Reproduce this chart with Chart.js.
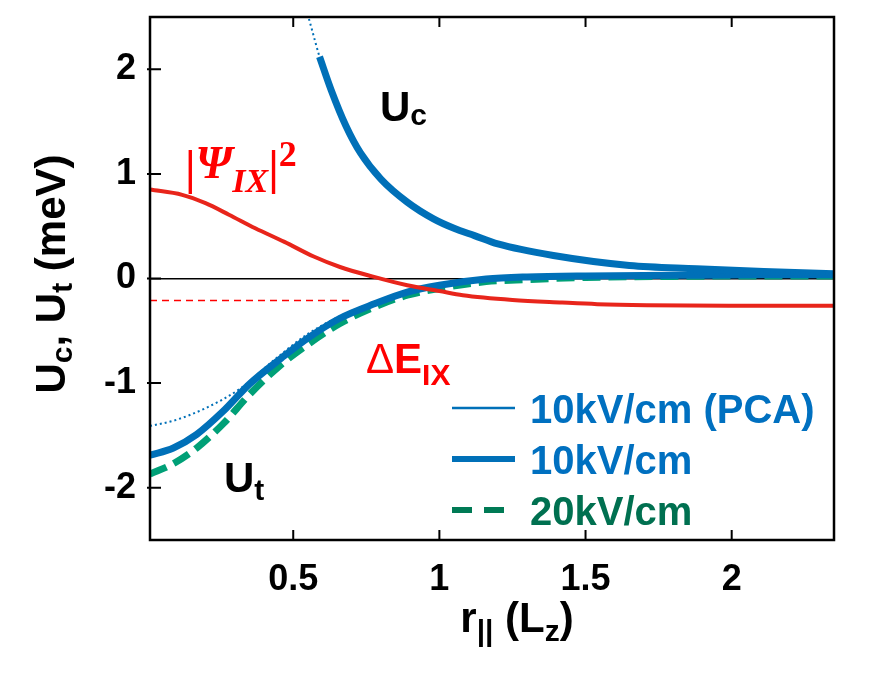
<!DOCTYPE html>
<html lang="en">

<head>
  <meta charset="UTF-8">
  <title>Uc, Ut vs r</title>
  <style>
    body { margin: 0; background: #fff; }
  </style>
</head>

<body>

  <canvas id="potChart" width="882" height="680"></canvas>

  <script src="https://cdn.jsdelivr.net/npm/chart.js@4.4.0/dist/chart.umd.min.js"></script>

  <script>
    // tick values
    const xTicks = [0.5, 1, 1.5, 2];
    const yTicks = [-2, -1, 0, 1, 2];

    // |Psi_IX|^2 (red)
    const psiX = [0.01, 0.12, 0.2, 0.28, 0.37, 0.47, 0.57, 0.66, 0.77, 0.89, 1.0, 1.08, 1.25, 1.42, 1.54, 1.71, 1.99, 2.35];
    const psiY = [0.85, 0.80, 0.72, 0.61, 0.48, 0.35, 0.21, 0.11, 0.02, -0.065, -0.12, -0.16, -0.205, -0.23, -0.245, -0.255, -0.26, -0.26];

    // Delta E_IX level (red dashed)
    const deX = [0.01, 0.70];
    const deY = [-0.21, -0.21];

    // Uc, 10kV/cm
    const ucX = [0.59, 0.63, 0.68, 0.73, 0.80, 0.89, 0.98, 1.05, 1.12, 1.2, 1.39, 1.65, 1.88, 2.11, 2.35];
    const ucY = [2.12, 1.80, 1.46, 1.20, 0.95, 0.73, 0.57, 0.48, 0.41, 0.33, 0.22, 0.125, 0.094, 0.068, 0.045];

    // Uc, 10kV/cm (PCA)
    const ucPcaX = [0.54, 0.56, 0.59, 0.63, 0.68, 0.73, 0.80, 0.89, 0.98, 1.05, 1.12, 1.2, 1.39, 1.65, 1.88, 2.11, 2.35];
    const ucPcaY = [2.62, 2.42, 2.12, 1.80, 1.46, 1.20, 0.95, 0.73, 0.57, 0.48, 0.41, 0.33, 0.22, 0.125, 0.094, 0.068, 0.045];

    // Ut, 10kV/cm
    const utX = [0.01, 0.09, 0.17, 0.26, 0.35, 0.46, 0.55, 0.66, 0.78, 0.89, 1.0, 1.16, 1.3, 1.5, 1.8, 2.1, 2.35];
    const utY = [-1.69, -1.62, -1.49, -1.27, -1.01, -0.76, -0.57, -0.38, -0.24, -0.13, -0.065, -0.005, 0.015, 0.025, 0.03, 0.035, 0.035];

    // Ut, 20kV/cm
    const ut20Y = [-1.87, -1.77, -1.62, -1.39, -1.11, -0.82, -0.63, -0.43, -0.27, -0.16, -0.095, -0.03, -0.01, 0.01, 0.02, 0.025, 0.025];

    // Ut, 10kV/cm (PCA)
    const utPcaX = [0.01, 0.09, 0.2, 0.32, 0.43, 0.55, 0.66, 0.78, 0.89, 1.0, 1.16, 1.3, 1.5, 1.8, 2.1, 2.35];
    const utPcaY = [-1.41, -1.36, -1.24, -1.05, -0.79, -0.53, -0.36, -0.225, -0.12, -0.06, 0.0, 0.015, 0.025, 0.03, 0.035, 0.035];

    const BLUE = "#0070B8";
    const GREEN = "#00A077";
    const RED = "#E8251B";
    const SANS = "'Liberation Sans', Arial, sans-serif";

    const pts = (xs, ys) => xs.map((x, i) => ({ x: x, y: ys[i] }));

    // draw a run of text pieces (for sub/superscripts)
    function richText(ctx, parts, x, y, align) {
      let w = 0;
      parts.forEach(p => { ctx.font = p.font; w += ctx.measureText(p.t).width; });
      let cx = align === "center" ? x - w / 2 : x;
      parts.forEach(p => {
        ctx.font = p.font;
        ctx.fillStyle = p.color || "#000";
        ctx.fillText(p.t, cx, y + (p.dy || 0));
        cx += ctx.measureText(p.t).width;
      });
    }

    const framePlugin = {
      id: "frame",
      afterDraw(chart) {
        const { ctx, chartArea: a, scales } = chart;
        ctx.save();
        ctx.strokeStyle = "#000";
        ctx.lineWidth = 2.5;
        ctx.strokeRect(a.left, a.top, a.right - a.left, a.bottom - a.top);

        // inward ticks
        ctx.lineWidth = 2;
        ctx.beginPath();
        xTicks.forEach(v => {
          const px = scales.x.getPixelForValue(v);
          ctx.moveTo(px, a.bottom); ctx.lineTo(px, a.bottom - 10);
          ctx.moveTo(px, a.top); ctx.lineTo(px, a.top + 10);
        });
        yTicks.forEach(v => {
          const py = scales.y.getPixelForValue(v);
          ctx.moveTo(a.left - 3, py); ctx.lineTo(a.left + 11, py);
        });
        ctx.stroke();

        ctx.textBaseline = "alphabetic";
        ctx.textAlign = "left";
        const big = "bold 42px " + SANS;
        const sub = "bold 30px " + SANS;

        // axis titles
        richText(ctx, [
          { t: "r", font: big },
          { t: "||", font: sub, dy: 9 },
          { t: " (L", font: big },
          { t: "z", font: sub, dy: 9 },
          { t: ")", font: big }
        ], 517, 632, "center");

        ctx.save();
        ctx.translate(65, 274);
        ctx.rotate(-Math.PI / 2);
        richText(ctx, [
          { t: "U", font: big },
          { t: "c", font: sub, dy: 7 },
          { t: ", U", font: big },
          { t: "t", font: sub, dy: 7 },
          { t: " (meV)", font: big }
        ], 0, 0, "center");
        ctx.restore();

        // curve labels
        richText(ctx, [{ t: "U", font: big }, { t: "c", font: sub, dy: 4 }], 380, 121);
        richText(ctx, [{ t: "U", font: big }, { t: "t", font: sub, dy: 8 }], 224, 492);
        richText(ctx, [
          { t: "\u0394", font: "42px " + SANS, color: "#FF0000" },
          { t: "E", font: big, color: "#FF0000" },
          { t: "IX", font: sub, dy: 12, color: "#FF0000" }
        ], 366, 373);
        const serif = "'Liberation Serif', 'DejaVu Serif', serif";
        richText(ctx, [
          { t: "|", font: "bold 48px " + serif, color: "#FF0000" },
          { t: "\u03A8", font: "bold italic 46px " + serif, color: "#FF0000", dy: -6 },
          { t: "IX", font: "bold italic 34px " + serif, color: "#FF0000", dy: 8 },
          { t: "|", font: "bold 48px " + serif, color: "#FF0000" },
          { t: "2", font: "bold 36px " + serif, color: "#FF0000", dy: -18 }
        ], 185, 184);

        // legend
        const rows = [
          { label: "10kV/cm (PCA)", color: "#0070C0", line: BLUE, w: 2.5, dash: [] },
          { label: "10kV/cm", color: "#0070C0", line: BLUE, w: 6, dash: [] },
          { label: "20kV/cm", color: "#007050", line: "#007A55", w: 6, dash: [20, 12] }
        ];
        rows.forEach((r, i) => {
          const y = 408 + i * 51;
          ctx.strokeStyle = r.line;
          ctx.lineWidth = r.w;
          ctx.setLineDash(r.dash);
          ctx.beginPath();
          ctx.moveTo(452, y); ctx.lineTo(515, y);
          ctx.stroke();
          ctx.setLineDash([]);
          ctx.font = "bold 40px " + SANS;
          ctx.fillStyle = r.color;
          ctx.fillText(r.label, 530, y + 15);
        });
        ctx.restore();
      }
    };

    const ctx = document.getElementById("potChart").getContext("2d");
    new Chart(ctx, {
      type: "scatter",
      data: {
        datasets: [
          {
            label: "|Psi_IX|^2",
            data: pts(psiX, psiY),
            borderColor: RED, borderWidth: 4, order: 1
          },
          {
            label: "Delta E_IX",
            data: pts(deX, deY),
            borderColor: "#FF0000", borderWidth: 1.5, borderDash: [7, 5], order: 2
          },
          {
            label: "Uc 10kV/cm (PCA)",
            data: pts(ucPcaX, ucPcaY),
            borderColor: BLUE, borderWidth: 2, borderDash: [2, 3], order: 3
          },
          {
            label: "Ut 10kV/cm (PCA)",
            data: pts(utPcaX, utPcaY),
            borderColor: BLUE, borderWidth: 2, borderDash: [2, 3], order: 3
          },
          {
            label: "Uc 10kV/cm",
            data: pts(ucX, ucY),
            borderColor: BLUE, borderWidth: 7, order: 4
          },
          {
            label: "Ut 10kV/cm",
            data: pts(utX, utY),
            borderColor: BLUE, borderWidth: 7, order: 4
          },
          {
            label: "Ut 20kV/cm",
            data: pts(utX, ut20Y),
            borderColor: GREEN, borderWidth: 7, borderDash: [18, 8], order: 5
          }
        ].map(d => Object.assign({
          showLine: true, pointRadius: 0, fill: false,
          cubicInterpolationMode: "monotone"
        }, d))
      },
      options: {
        responsive: false,
        animation: false,
        devicePixelRatio: 1,
        layout: { padding: { left: 0, top: 17, right: 48, bottom: 0 } },
        plugins: { legend: { display: false }, tooltip: { enabled: false } },
        scales: {
          x: {
            type: "linear", min: 0.01, max: 2.35,
            afterBuildTicks: s => { s.ticks = xTicks.map(v => ({ value: v })); },
            afterFit: s => { s.height = 140; s.paddingLeft = 0; s.paddingRight = 0; },
            grid: { display: false },
            border: { display: false },
            ticks: {
              color: "#000", padding: 10, maxRotation: 0,
              callback: v => String(v),
              font: { family: SANS, size: 36, weight: "bold" }
            }
          },
          y: {
            type: "linear", min: -2.5, max: 2.5,
            afterBuildTicks: s => { s.ticks = yTicks.map(v => ({ value: v })); },
            afterFit: s => { s.width = 150; s.paddingTop = 0; s.paddingBottom = 0; },
            grid: {
              drawTicks: false,
              color: c => (c.tick && c.tick.value === 0) ? "#000" : "rgba(0,0,0,0)",
              lineWidth: 1.5
            },
            border: { display: false },
            ticks: {
              color: "#000", padding: 14,
              callback: v => String(v),
              font: { family: SANS, size: 36, weight: "bold" }
            }
          }
        }
      },
      plugins: [framePlugin]
    });
  </script>

</body>

</html>
